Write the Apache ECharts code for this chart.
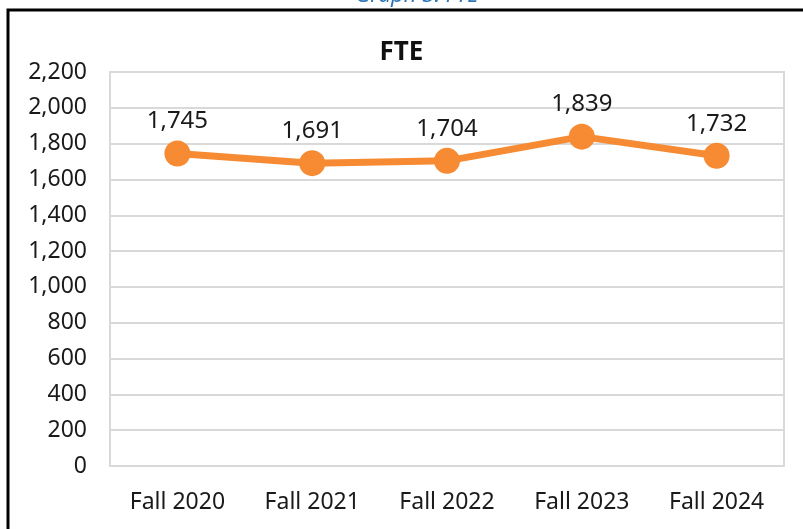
<!DOCTYPE html>
<html>
<head>
<meta charset="utf-8">
<script src="https://cdn.jsdelivr.net/npm/echarts@6/dist/echarts.min.js"></script>
<style>
  html, body { margin: 0; padding: 0; background: #fff; }
  #chart { width: 803px; height: 529px; }
</style>
</head>
<body>
<div id="chart"></div>
<script>
const categories = ['Fall 2020', 'Fall 2021', 'Fall 2022', 'Fall 2023', 'Fall 2024'];
const fteValues = [1745, 1691, 1704, 1839, 1732];
const yMin = 0;
const yMax = 2200;
const yStep = 200;

const fmt = (v) => Number(v).toLocaleString('en-US');
const font = '"Noto Sans", sans-serif';

const chart = echarts.init(document.getElementById('chart'));

chart.setOption({
  animation: false,
  backgroundColor: '#fff',
  title: {
    text: 'FTE',
    left: 'center',
    top: 35,
    textStyle: { fontFamily: font, fontSize: 26, fontWeight: 'bold', color: '#111' }
  },
  graphic: [
    // outer frame, right and bottom run off the page
    {
      type: 'rect',
      shape: { x: 8, y: 10, width: 900, height: 600 },
      style: { fill: 'none', stroke: '#000', lineWidth: 3 },
      silent: true
    },
    // caption cut off by the top edge
    {
      type: 'text',
      x: 417,
      y: 7,
      style: {
        text: 'Graph 3: FTE',
        align: 'center',
        verticalAlign: 'bottom',
        fontFamily: font,
        fontStyle: 'italic',
        fontSize: 22,
        fill: '#2E74B5'
      }
    }
  ],
  grid: {
    left: 110,
    right: 19,
    top: 72,
    bottom: 63,
    show: true,
    borderColor: '#D9D9D9',
    borderWidth: 2
  },
  xAxis: {
    type: 'category',
    data: categories,
    boundaryGap: true,
    axisLine: { show: false },
    axisTick: { show: false },
    axisLabel: { margin: 25, fontFamily: font, fontSize: 23, color: '#1a1a1a' }
  },
  yAxis: {
    type: 'value',
    min: yMin,
    max: yMax,
    interval: yStep,
    axisLine: { show: false },
    axisTick: { show: false },
    splitLine: { lineStyle: { color: '#D9D9D9', width: 2 } },
    axisLabel: { margin: 23, fontFamily: font, fontSize: 23, color: '#1a1a1a', formatter: fmt }
  },
  series: [{
    type: 'line',
    data: fteValues,
    symbol: 'circle',
    symbolSize: 26,
    lineStyle: { color: '#F68B33', width: 7 },
    itemStyle: { color: '#F68B33' },
    label: {
      show: true,
      position: 'top',
      distance: 7,
      fontFamily: font,
      fontSize: 24,
      color: '#1a1a1a',
      formatter: (p) => fmt(p.value)
    }
  }]
});
</script>
</body>
</html>
